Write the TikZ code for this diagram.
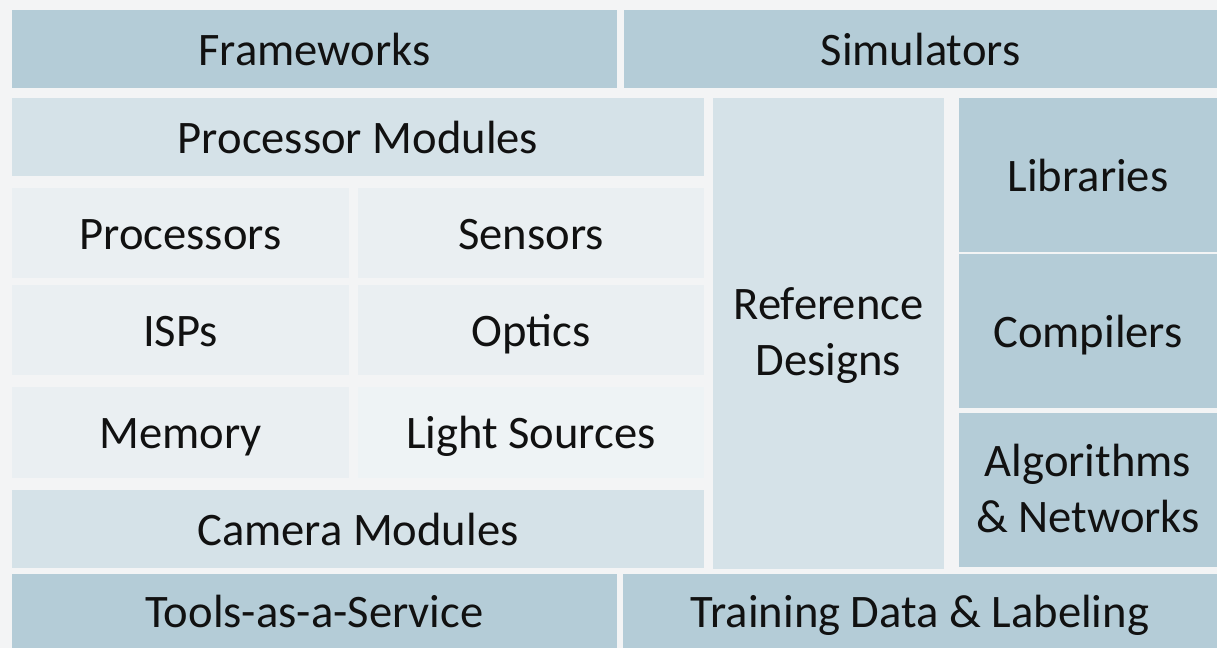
\documentclass[tikz,border=0pt]{standalone}
\usepackage{fontspec}
\setmainfont{Carlito}
\definecolor{bg}{HTML}{F3F4F5}
\definecolor{dark}{HTML}{B4CCD7}
\definecolor{mid}{HTML}{D5E2E8}
\definecolor{light}{HTML}{EAEFF2}
\definecolor{lighter}{HTML}{EEF3F5}
\definecolor{txt}{HTML}{111111}
\tikzset{
  box/.style={rectangle, inner sep=0pt, outer sep=0pt, text=txt, align=center,
    font=\fontsize{46.6}{56}\selectfont, text height=32pt, text depth=0pt},
  twoline/.style={text height=84pt, text depth=0pt},
}
\begin{document}
\begin{tikzpicture}[x=1pt,y=-1pt]
\fill[bg] (0,0) rectangle (1217,648);
\useasboundingbox (0,0) rectangle (1217,648);
% top row
\node[box, fill=dark, minimum width=605pt, minimum height=78pt] (fw) at (314.5,49) {Frameworks};
\node[box, fill=dark, minimum width=593pt, minimum height=78pt] (sim) at (920.5,49) {Simulators};
% processor modules
\node[box, fill=mid, minimum width=692pt, minimum height=78pt] (pm) at (358,137) {Processor Modules};
% grid
\node[box, fill=light, minimum width=337pt, minimum height=90pt] (proc) at (180.5,233) {Processors};
\node[box, fill=light, minimum width=346pt, minimum height=90pt] (sens) at (531,233) {Sensors};
\node[box, fill=light, minimum width=337pt, minimum height=90pt] (isp) at (180.5,330) {ISPs};
\node[box, fill=light, minimum width=346pt, minimum height=90pt] (opt) at (531,330) {Optics};
\node[box, fill=light, minimum width=337pt, minimum height=91pt] (mem) at (180.5,432.5) {Memory};
\node[box, fill=lighter, minimum width=346pt, minimum height=91pt] (ls) at (531,432.5) {Light Sources};
% camera modules
\node[box, fill=mid, minimum width=692pt, minimum height=78pt] (cam) at (358,529) {Camera Modules};
% reference designs
\node[box, twoline, fill=mid, minimum width=231pt, minimum height=471pt] (ref) at (828.5,333.5) {Reference\\Designs};
% right column
\node[box, fill=dark, minimum width=258pt, minimum height=154pt] (lib) at (1088,175) {Libraries};
\node[box, fill=dark, minimum width=258pt, minimum height=154pt] (comp) at (1088,331) {Compilers};
\node[box, twoline, fill=dark, minimum width=258pt, minimum height=154pt] (alg) at (1088,490) {Algorithms\\\&~Networks};
% bottom row
\node[box, fill=dark, minimum width=605pt, minimum height=74pt] (tools) at (314.5,611) {Tools-as-a-Service};
\node[box, fill=dark, minimum width=594pt, minimum height=74pt] (train) at (920,611) {Training Data \& Labeling};
\end{tikzpicture}
\end{document}
